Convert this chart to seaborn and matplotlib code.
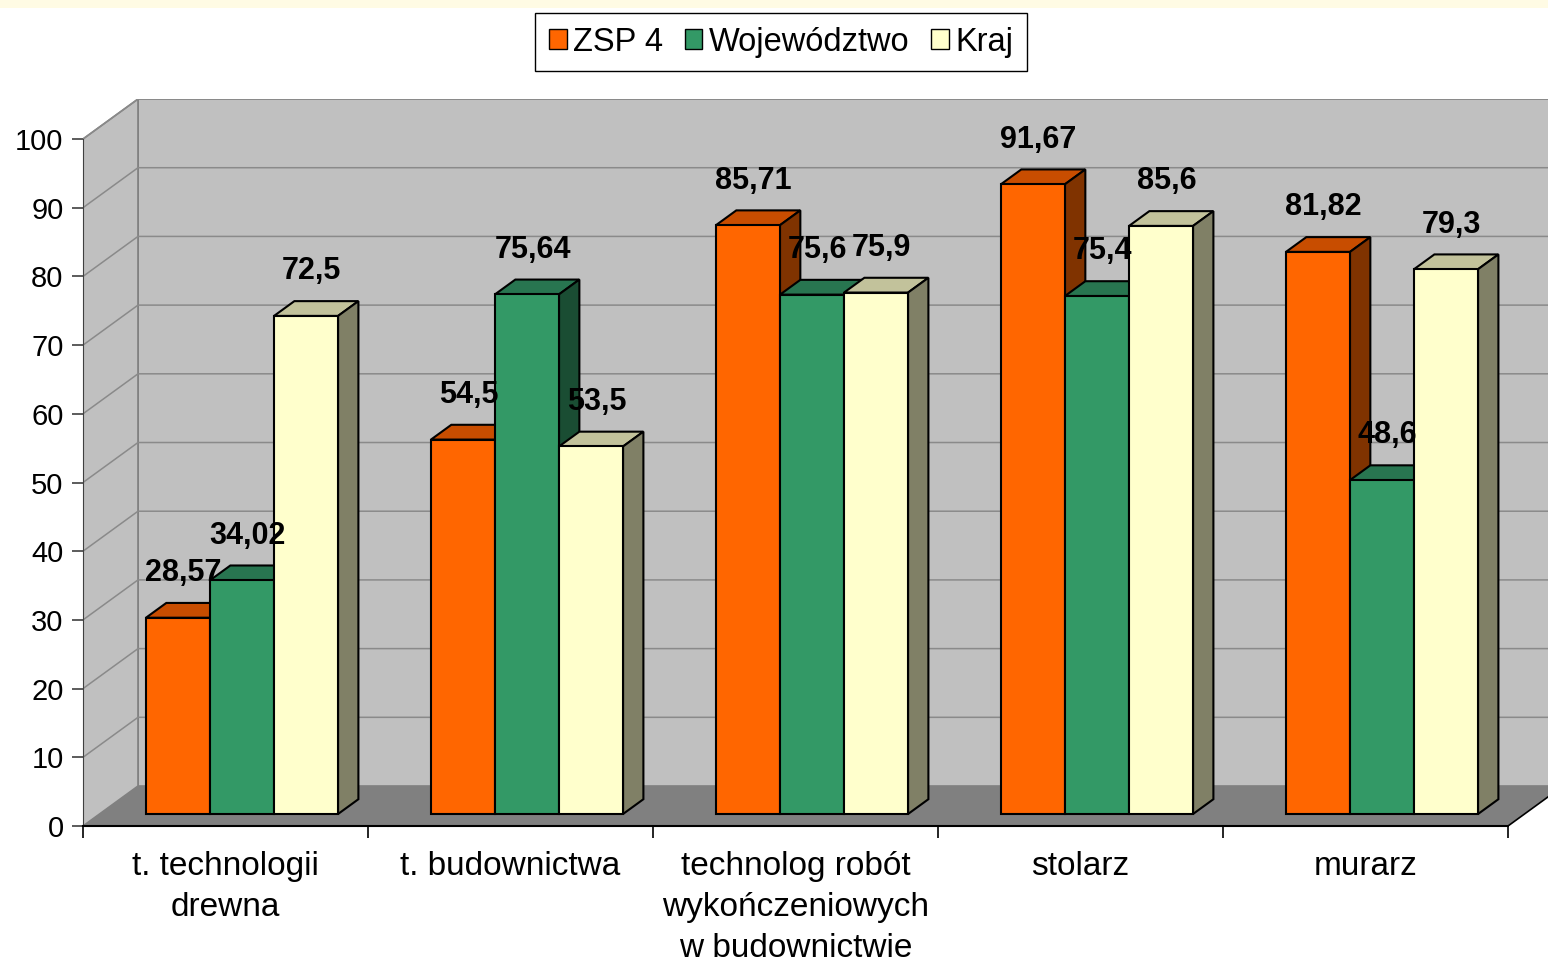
import numpy as np
import pandas as pd
import matplotlib
matplotlib.use("Agg")
import matplotlib.pyplot as plt
from matplotlib.patches import Polygon, Patch, Rectangle
import seaborn as sns

# dane z wykresu
categories = ["t. technologii\ndrewna", "t. budownictwa",
              "technolog robót\nwykończeniowych\nw budownictwie",
              "stolarz", "murarz"]
series = ["ZSP 4", "Województwo", "Kraj"]
zsp4 = [28.57, 54.5, 85.71, 91.67, 81.82]
wojewodztwo = [34.02, 75.64, 75.6, 75.4, 48.6]
kraj = [72.5, 53.5, 75.9, 85.6, 79.3]

front_colors = ["#ff6600", "#339966", "#ffffcc"]
top_colors = ["#c84d00", "#287550", "#c2c29b"]
side_colors = ["#803300", "#1a4d33", "#808066"]

df = pd.DataFrame({
    "kategoria": categories * len(series),
    "seria": np.repeat(series, len(categories)),
    "wartosc": zsp4 + wojewodztwo + kraj,
})

sns.set_style("white")
plt.rcParams["font.family"] = ["Liberation Sans", "DejaVu Sans"]
plt.rcParams["text.color"] = "black"
plt.rcParams["xtick.labelcolor"] = "black"
plt.rcParams["ytick.labelcolor"] = "black"

fig = plt.figure(figsize=(15.48, 9.64), dpi=100)
fig.add_artist(Rectangle((0, 1 - 8 / 964), 1, 8 / 964, transform=fig.transFigure,
                         facecolor="#fffbe4", edgecolor="none"))
ax = fig.add_axes([83 / 1548, 138 / 964, 1465 / 1548, 727 / 964])
ax.set_facecolor("none")

# pseudo-3D: przesuniecie glebokosci
DX, DY = 0.193, 5.82
FD, BD = 0.30, 0.37
yticks = np.arange(0, 101, 10)

ax.add_patch(Polygon([(-0.5 + DX, DY), (4.5 + DX, DY), (4.5 + DX, 100 + DY), (-0.5 + DX, 100 + DY)],
                     facecolor="#c0c0c0", edgecolor="#808080", lw=1.2, zorder=0))
ax.add_patch(Polygon([(-0.5, 0), (-0.5, 100), (-0.5 + DX, 100 + DY), (-0.5 + DX, DY)],
                     facecolor="#c0c0c0", edgecolor="#808080", lw=1.2, zorder=0))
ax.add_patch(Polygon([(-0.5, 0), (4.5, 0), (4.5 + DX, DY), (-0.5 + DX, DY)],
                     facecolor="#808080", edgecolor="none", zorder=0.5))
for v in yticks[1:]:
    ax.plot([-0.5, -0.5 + DX, 4.5 + DX], [v, v + DY, v + DY], color="#8a8a8a", lw=1.1, zorder=0.2)
ax.plot([4.5, 4.5 + DX], [0, DY], color="black", lw=1.2, zorder=1)

sns.barplot(data=df, x="kategoria", y="wartosc", hue="seria", palette=front_colors,
            saturation=1, width=0.674, edgecolor="black", linewidth=1.5,
            errorbar=None, legend=False, ax=ax, zorder=3)

for i, cont in enumerate(ax.containers):
    for bar in cont:
        x0, w, h = bar.get_x() + FD * DX, bar.get_width(), bar.get_height()
        y0 = FD * DY
        bar.set_x(x0)
        bar.set_y(y0)
        top = [(x0, y0 + h), (x0 + w, y0 + h),
               (x0 + w + BD * DX, y0 + h + BD * DY), (x0 + BD * DX, y0 + h + BD * DY)]
        side = [(x0 + w, y0), (x0 + w + BD * DX, y0 + BD * DY),
                (x0 + w + BD * DX, y0 + h + BD * DY), (x0 + w, y0 + h)]
        ax.add_patch(Polygon(top, facecolor=top_colors[i], edgecolor="black", lw=1.5, zorder=2))
        ax.add_patch(Polygon(side, facecolor=side_colors[i], edgecolor="black", lw=1.5, zorder=2))
        ax.text(x0 + w / 2 + 0.02, y0 + h + 6.5, f"{h:g}".replace(".", ","),
                ha="center", va="center", fontsize=22, fontweight="bold",
                color="black", zorder=5)

ax.set_xlim(-0.5, -0.5 + 1465 / 285)
ax.set_ylim(0, 727 / 6.87)
ax.set_yticks(yticks)
ax.set_xticks(range(len(categories)))
ax.set_xticklabels(categories, linespacing=1.42)
ax.set_xticks(np.arange(-0.5, len(categories)), minor=True)
ax.tick_params(axis="x", which="major", length=0, pad=18, labelsize=24)
ax.tick_params(axis="x", which="minor", length=8.5, width=1.2, color="black", bottom=True)
ax.tick_params(axis="y", length=8, width=1.2, color="#404040", pad=6, labelsize=21, left=True)
ax.set_xlabel("")
ax.set_ylabel("")
for s in ["top", "right"]:
    ax.spines[s].set_visible(False)
ax.spines["left"].set_bounds(0, 100)
ax.spines["left"].set_color("#404040")
ax.spines["bottom"].set_bounds(-0.5, 4.5)
ax.spines["bottom"].set_color("black")
ax.spines["bottom"].set_linewidth(1.5)

handles = [Patch(facecolor=c, edgecolor="black", linewidth=1) for c in front_colors]
fig.legend(handles, series, loc="upper center", bbox_to_anchor=(781 / 1548, 1 - 13 / 964),
           ncol=3, frameon=True, fancybox=False, edgecolor="black", fontsize=23.5,
           handlelength=0.55, handleheight=0.55, handletextpad=0.2, columnspacing=0.65,
           borderpad=0.42, borderaxespad=0, framealpha=1)

fig.savefig("out.png", dpi=100)
